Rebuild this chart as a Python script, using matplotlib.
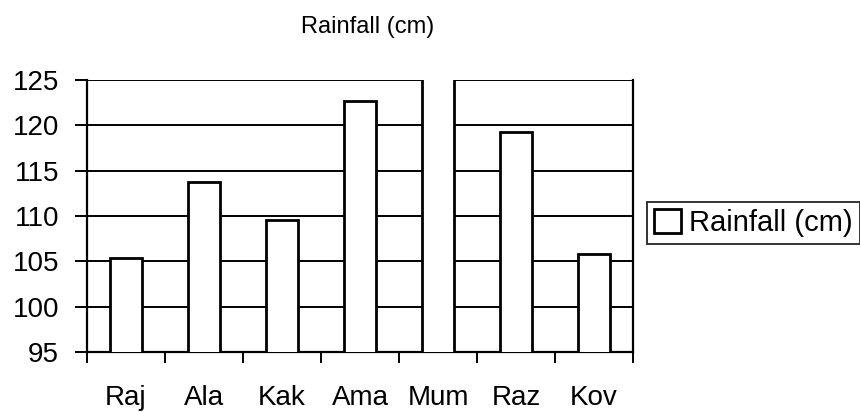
import matplotlib
matplotlib.use('Agg')
import matplotlib.pyplot as plt

# data
places = ['Raj', 'Ala', 'Kak', 'Ama', 'Mum', 'Raz', 'Kov']
rainfall = [105.4, 113.7, 109.6, 122.7, 130.0, 119.3, 105.8]  # Mum runs off the top
yticks = [95, 100, 105, 110, 115, 120, 125]

plt.rcParams['font.family'] = ['Liberation Sans', 'DejaVu Sans']

fig = plt.figure(figsize=(8.6, 4.12), dpi=100)
ax = fig.add_axes([87 / 860, 60 / 412, 546 / 860, 272 / 412])

x = list(range(len(places)))
ax.bar(x, rainfall, width=0.42, color='white', edgecolor='black',
       linewidth=2, zorder=3, label='Rainfall (cm)')

ax.set_xlim(-0.5, len(places) - 0.5)
ax.set_ylim(95, 125)
ax.set_yticks(yticks)
ax.set_yticklabels([str(v) for v in yticks], fontsize=20)
ax.yaxis.grid(True, color='black', linewidth=1.4, zorder=1)

# category ticks sit between bars, labels under bars
ax.set_xticks([i - 0.5 for i in range(len(places) + 1)])
ax.set_xticklabels([])
ax.set_xticks(x, minor=True)
ax.set_xticklabels(places, minor=True, fontsize=20)
ax.tick_params(axis='x', which='major', length=8, width=1.4, direction='out')
ax.tick_params(axis='x', which='minor', length=0, pad=24)
ax.tick_params(axis='y', length=9, width=1.4, direction='out', pad=11)

for s in ax.spines.values():
    s.set_linewidth(1.6)
    s.set_color('black')
ax.spines['top'].set_visible(False)  # the 125 gridline closes the box

fig.text(368 / 860, 1 - 27 / 412, 'Rainfall (cm)', ha='center', va='center', fontsize=17)

leg = ax.legend(loc='center left', bbox_to_anchor=(647 / 860, 1 - 223 / 412),
                bbox_transform=fig.transFigure, fontsize=21, frameon=True,
                fancybox=False, edgecolor='black', borderaxespad=0,
                handlelength=0.9, handleheight=0.9, handletextpad=0.3,
                borderpad=0.25)
leg.get_frame().set_linewidth(1.4)

fig.savefig('out.png', dpi=100)
